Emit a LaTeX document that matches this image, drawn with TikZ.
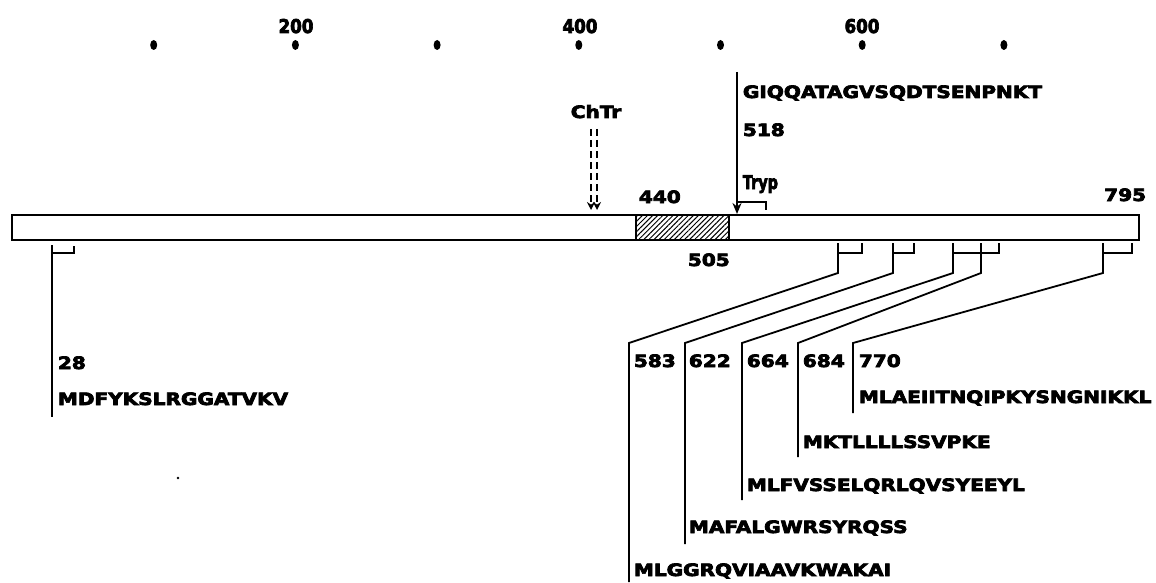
\documentclass[tikz,border=0pt]{standalone}
\usepackage{fontspec}
\newfontfamily\labfont[BoldFeatures={FakeBold=4}]{DejaVu Sans}
\usetikzlibrary{arrows.meta,patterns.meta}
\newcommand{\widen}[1]{\scalebox{1.18}[1]{#1}}
\newcommand{\narrowtxt}[1]{\scalebox{0.76}[1]{#1}}
\begin{document}
\begin{tikzpicture}[x=1pt,y=-1pt,line width=1.8pt,
  lab/.style={font=\labfont\bfseries\fontsize{17}{19}\selectfont, inner sep=0pt, anchor=base west},
  ticklab/.style={font=\labfont\bfseries\fontsize{19}{21}\selectfont, inner sep=0pt, anchor=base},
  dotmark/.style={fill=black},
  chtrline/.style={line width=1.6pt, dash pattern=on 7pt off 4pt, -{Stealth[length=8pt,width=8pt]}},
  cutarrow/.style={line width=1.8pt, -{Stealth[length=11pt,width=9pt]}}]
\useasboundingbox (0,0) rectangle (1156,583);
% scale dots and labels
\foreach \r in {1,...,7}{
  \fill[dotmark] ({12+141.7*\r},45) ellipse [x radius=3.5pt, y radius=5pt];
}
\node[ticklab] (t200) at (296,33) {\scalebox{0.88}[1]{200}};
\node[ticklab] (t400) at (580,33) {\scalebox{0.88}[1]{400}};
\node[ticklab] (t600) at (862,33) {\scalebox{0.88}[1]{600}};
% bar
\coordinate (barNW) at (12,215);
\coordinate (barSE) at (1139,240);
\coordinate (hatNW) at (636,215);
\coordinate (hatSE) at (729,240);
\fill[pattern={Lines[angle=45,distance=3.6pt,line width=1pt]}] (hatNW) rectangle (hatSE);
\draw (hatNW) -- (hatNW |- hatSE);
\draw (hatSE) -- (hatSE |- hatNW);
\draw (barNW) rectangle (barSE);
% upper labels
\node[lab] (n440) at (638,203) {\widen{440}};
\node[lab] (n505) at (687,266) {\widen{505}};
\node[lab] (n795) [anchor=base east] at (1147,201) {\widen{795}};
\node[lab] (chtr) [anchor=base] at (596,118) {\widen{ChTr}};
\node[lab] (giqq) at (742,98) {\widen{GIQQATAGVSQDTSENPNKT}};
\node[lab] (n518) at (742,136) {\widen{518}};
\node[lab, font=\labfont\bfseries\fontsize{19}{21}\selectfont] (tryp) at (742,189) {\narrowtxt{Tryp}};
% chymotrypsin double dashed arrow
\coordinate (chA1) at (591,129); \coordinate (chA2) at (591,210);
\coordinate (chB1) at (597,129); \coordinate (chB2) at (597,210);
\draw[chtrline] (chA1) -- (chA2);
\draw[chtrline] (chB1) -- (chB2);
% trypsin cut arrow
\coordinate (cutTop) at (737,72);
\coordinate (cutTip) at (737,214);
\draw[cutarrow] (cutTop) -- (cutTip);
\coordinate (trA) at (737,202); \coordinate (trB) at (766,202); \coordinate (trC) at (766,210);
\draw (trA) -- (trB) -- (trC);
% bracket 28
\coordinate (b28top) at (52,245); \coordinate (b28bot) at (52,417);
\coordinate (b28h) at (52,253); \coordinate (b28r) at (74,253); \coordinate (b28rt) at (74,246);
\draw (b28top) -- (b28bot);
\draw (b28h) -- (b28r) -- (b28rt);
\node[lab] (n28) at (57,369) {\widen{28}};
\node[lab] (s28) at (57,405) {\widen{MDFYKSLRGGATVKV}};
% brackets for other start sites
\foreach \n/\a/\b/\c/\e in {583/838/862/629/582, 622/893/914/685/544, 664/953/981/742/500, 684/981/999/798/457, 770/1103/1132/853/413}{
  \coordinate (top\n) at (\a,243);
  \coordinate (knee\n) at (\a,273);
  \coordinate (corner\n) at (\c,343);
  \coordinate (end\n) at (\c,\e);
  \coordinate (h\n) at (\a,253);
  \coordinate (hr\n) at (\b,253);
  \coordinate (hrt\n) at (\b,243);
  \draw (top\n) -- (knee\n) -- (corner\n) -- (end\n);
  \draw (h\n) -- (hr\n) -- (hrt\n);
}
\node[lab] (n583) at (633,367) {\widen{583}};
\node[lab] (n622) at (688,367) {\widen{622}};
\node[lab] (n664) at (746,367) {\widen{664}};
\node[lab] (n684) at (802,367) {\widen{684}};
\node[lab] (n770) at (858,367) {\widen{770}};
\node[lab] (s770) at (858,403) {\widen{MLAEIITNQIPKYSNGNIKKL}};
\node[lab] (s684) at (802,448) {\widen{MKTLLLLSSVPKE}};
\node[lab] (s664) at (746,491) {\widen{MLFVSSELQRLQVSYEEYL}};
\node[lab] (s622) at (688,533) {\widen{MAFALGWRSYRQSS}};
\node[lab] (s583) at (633,576) {\widen{MLGGRQVIAAVKWAKAI}};
% stray mark
\fill (178,478) circle [radius=1.3pt];
\end{tikzpicture}
\end{document}
